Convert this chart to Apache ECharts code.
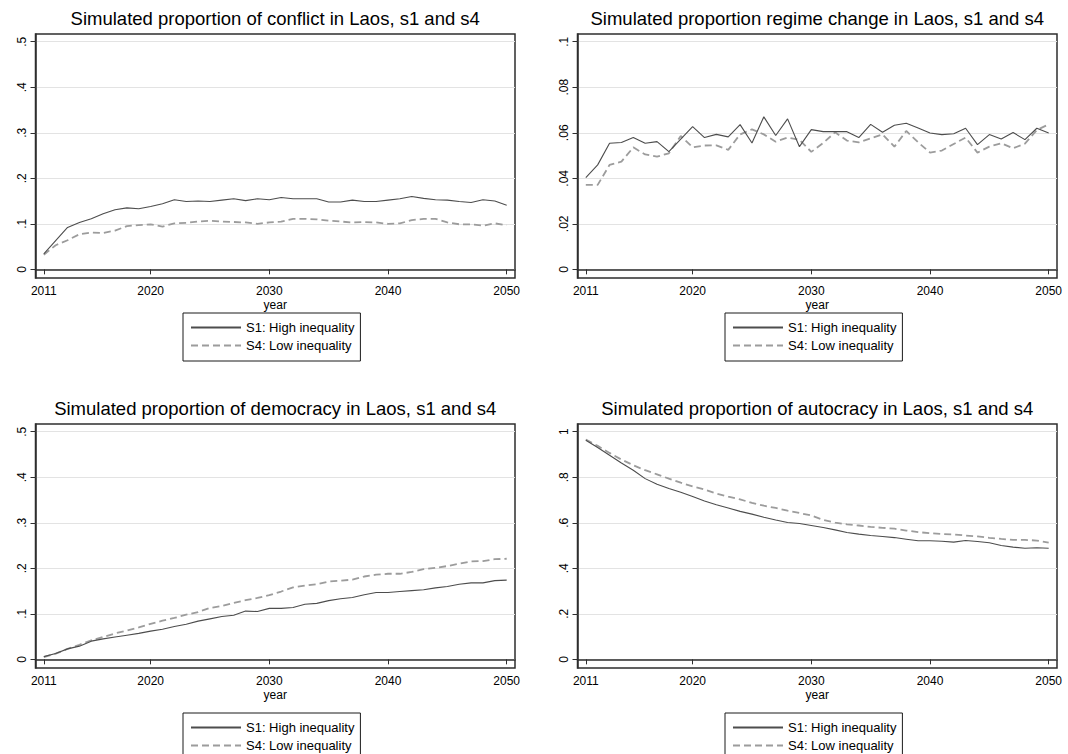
<!DOCTYPE html>
<html>
<head>
<meta charset="utf-8">
<title>Simulated proportions in Laos, s1 and s4</title>
<script src="https://cdn.jsdelivr.net/npm/echarts@6/dist/echarts.min.js"></script>
<style>
  html, body { margin: 0; padding: 0; background: #fff; }
  #chart { width: 1068px; height: 754px; }
</style>
</head>
<body>
<div id="chart"></div>
<script>
// Years simulated
const years = [2011, 2012, 2013, 2014, 2015, 2016, 2017, 2018, 2019, 2020,
               2021, 2022, 2023, 2024, 2025, 2026, 2027, 2028, 2029, 2030,
               2031, 2032, 2033, 2034, 2035, 2036, 2037, 2038, 2039, 2040,
               2041, 2042, 2043, 2044, 2045, 2046, 2047, 2048, 2049, 2050];

const seriesNames = ['S1: High inequality', 'S4: Low inequality'];

// Proportion of conflict
const conflictS1 = [0.034, 0.063, 0.092, 0.103, 0.111, 0.122, 0.131, 0.135, 0.133, 0.138,
                    0.144, 0.153, 0.149, 0.150, 0.149, 0.152, 0.155, 0.151, 0.155, 0.153,
                    0.158, 0.155, 0.155, 0.155, 0.148, 0.148, 0.152, 0.149, 0.149, 0.152,
                    0.155, 0.160, 0.156, 0.153, 0.152, 0.149, 0.147, 0.153, 0.150, 0.141];
const conflictS4 = [0.032, 0.053, 0.064, 0.077, 0.081, 0.080, 0.085, 0.095, 0.097, 0.099,
                    0.094, 0.101, 0.102, 0.105, 0.107, 0.105, 0.104, 0.103, 0.100, 0.103,
                    0.105, 0.111, 0.111, 0.110, 0.107, 0.105, 0.103, 0.104, 0.103, 0.100,
                    0.101, 0.108, 0.111, 0.111, 0.103, 0.099, 0.099, 0.096, 0.101, 0.097];

// Proportion of regime change
const regimeS1 = [0.0403, 0.0459, 0.0554, 0.0557, 0.0579, 0.0554, 0.0561, 0.0517, 0.0572, 0.0627,
                  0.0579, 0.0593, 0.0582, 0.0636, 0.0555, 0.0670, 0.0588, 0.0661, 0.0539, 0.0614,
                  0.0605, 0.0605, 0.0605, 0.0579, 0.0637, 0.0602, 0.0633, 0.0642, 0.0621, 0.0599,
                  0.0592, 0.0596, 0.0620, 0.0548, 0.0592, 0.0573, 0.0601, 0.0570, 0.0620, 0.0599];
const regimeS4 = [0.0371, 0.0371, 0.0459, 0.0473, 0.0536, 0.0505, 0.0495, 0.0510, 0.0586, 0.0536,
                  0.0544, 0.0545, 0.0525, 0.0593, 0.0615, 0.0593, 0.0561, 0.0579, 0.0569, 0.0516,
                  0.0555, 0.0602, 0.0566, 0.0558, 0.0576, 0.0593, 0.0539, 0.0608, 0.0558, 0.0513,
                  0.0522, 0.0551, 0.0579, 0.0513, 0.0539, 0.0554, 0.0532, 0.0552, 0.0612, 0.0637];

// Proportion of democracy
const democracyS1 = [0.006, 0.013, 0.023, 0.029, 0.040, 0.045, 0.049, 0.053, 0.057, 0.062,
                     0.066, 0.072, 0.077, 0.084, 0.089, 0.094, 0.097, 0.106, 0.105, 0.112,
                     0.112, 0.114, 0.121, 0.123, 0.129, 0.133, 0.136, 0.142, 0.147, 0.147,
                     0.149, 0.151, 0.153, 0.157, 0.160, 0.165, 0.168, 0.168, 0.173, 0.174];
const democracyS4 = [0.005, 0.0125, 0.023, 0.032, 0.042, 0.049, 0.057, 0.063, 0.070, 0.078,
                     0.085, 0.091, 0.098, 0.104, 0.113, 0.117, 0.124, 0.130, 0.135, 0.141,
                     0.149, 0.158, 0.162, 0.165, 0.171, 0.173, 0.175, 0.182, 0.186, 0.188,
                     0.188, 0.192, 0.198, 0.201, 0.205, 0.210, 0.215, 0.216, 0.220, 0.221];

// Proportion of autocracy
const autocracyS1 = [0.963, 0.931, 0.897, 0.863, 0.831, 0.794, 0.769, 0.751, 0.734, 0.715,
                     0.696, 0.679, 0.665, 0.650, 0.638, 0.624, 0.612, 0.601, 0.597, 0.588,
                     0.579, 0.569, 0.557, 0.550, 0.544, 0.540, 0.535, 0.528, 0.521, 0.521,
                     0.519, 0.515, 0.522, 0.518, 0.512, 0.500, 0.493, 0.488, 0.490, 0.488];
const autocracyS4 = [0.966, 0.938, 0.907, 0.878, 0.853, 0.831, 0.813, 0.794, 0.776, 0.760,
                     0.746, 0.728, 0.715, 0.703, 0.687, 0.675, 0.665, 0.653, 0.643, 0.632,
                     0.613, 0.601, 0.593, 0.588, 0.582, 0.578, 0.574, 0.566, 0.559, 0.554,
                     0.551, 0.549, 0.544, 0.540, 0.534, 0.529, 0.525, 0.525, 0.522, 0.513];

// Axis ticks and their labels
const xTicks = [2011, 2020, 2030, 2040, 2050];
const xTickLabels = ['2011', '2020', '2030', '2040', '2050'];
const shareTicks = [0, 0.1, 0.2, 0.3, 0.4, 0.5];
const shareTickLabels = ['0', '.1', '.2', '.3', '.4', '.5'];
const regimeTicks = [0, 0.02, 0.04, 0.06, 0.08, 0.1];
const regimeTickLabels = ['0', '.02', '.04', '.06', '.08', '.1'];
const autocracyTicks = [0, 0.2, 0.4, 0.6, 0.8, 1];
const autocracyTickLabels = ['0', '.2', '.4', '.6', '.8', '1'];

const FONT = '"Liberation Sans", Arial, Helvetica, sans-serif';
const INK = '#000';
const FRAME = '#2e2e2e';

function lookupLabel(ticks, labels, v) {
  const k = ticks.findIndex(t => Math.abs(t - v) < 1e-9);
  return k >= 0 ? labels[k] : '';
}

// Panel layout: plot boxes in pixels
const panels = [
  { title: 'Simulated proportion of conflict in Laos, s1 and s4',
    s1: conflictS1, s4: conflictS4, ticks: shareTicks, labels: shareTickLabels,
    left: 35.5, top: 34, legendLeft: 183, legendTop: 313 },
  { title: 'Simulated proportion regime change in Laos, s1 and s4',
    s1: regimeS1, s4: regimeS4, ticks: regimeTicks, labels: regimeTickLabels,
    left: 577.5, top: 34, legendLeft: 725, legendTop: 313 },
  { title: 'Simulated proportion of democracy in Laos, s1 and s4',
    s1: democracyS1, s4: democracyS4, ticks: shareTicks, labels: shareTickLabels,
    left: 35.5, top: 424, legendLeft: 183, legendTop: 713 },
  { title: 'Simulated proportion of autocracy in Laos, s1 and s4',
    s1: autocracyS1, s4: autocracyS4, ticks: autocracyTicks, labels: autocracyTickLabels,
    left: 577.5, top: 424, legendLeft: 725, legendTop: 713 }
];
const PLOT_W = 479.5;
const PLOT_H = 244;

const grids = [], xAxes = [], yAxes = [], titles = [], legends = [], series = [];

panels.forEach((p, i) => {
  grids.push({
    left: p.left, top: p.top, width: PLOT_W, height: PLOT_H,
    show: true, borderColor: FRAME, borderWidth: 1.5, backgroundColor: '#fff'
  });

  xAxes.push({
    gridIndex: i, type: 'value', min: 2010.3, max: 2050.7,
    name: 'year', nameLocation: 'middle', nameGap: 21,
    nameTextStyle: { fontFamily: FONT, fontSize: 12, color: INK },
    axisLine: { show: true, lineStyle: { color: FRAME, width: 1.5 } },
    axisTick: { show: true, inside: false, length: 5, customValues: xTicks,
                lineStyle: { color: FRAME, width: 1 } },
    axisLabel: { customValues: xTicks, margin: 7, fontFamily: FONT, fontSize: 12, color: INK,
                 formatter: (v) => lookupLabel(xTicks, xTickLabels, v) },
    splitLine: { show: false }
  });

  const yMin = p.ticks[0];
  const yMax = p.ticks[p.ticks.length - 1];
  const span = yMax - yMin;
  yAxes.push({
    gridIndex: i, type: 'value',
    min: yMin - span * 0.019 / 0.5, max: yMax + span * 0.017 / 0.5,
    axisLine: { show: true, lineStyle: { color: FRAME, width: 1.5 } },
    axisTick: { show: true, inside: false, length: 5, customValues: p.ticks,
                lineStyle: { color: FRAME, width: 1 } },
    axisLabel: {
      customValues: p.ticks, rotate: 90, margin: 8,
      fontFamily: FONT, fontSize: 12, color: INK,
      formatter: (v) => lookupLabel(p.ticks, p.labels, v)
    },
    splitLine: { show: true, lineStyle: { color: '#e3e3e3', width: 1.2 } }
  });

  titles.push({
    text: p.title, left: p.left + PLOT_W / 2, top: p.top - 25, padding: 0,
    textAlign: 'center',
    textStyle: { fontFamily: FONT, fontSize: 18.5, fontWeight: 'normal', color: INK }
  });

  legends.push({
    data: seriesNames, orient: 'vertical',
    left: p.legendLeft, top: p.legendTop, height: 40,
    itemWidth: 50, itemHeight: 14, itemGap: 5,
    padding: [8, 6, 9, 7],
    borderColor: '#1a1a1a', borderWidth: 1, backgroundColor: '#fff',
    itemStyle: { opacity: 0 },
    textStyle: { fontFamily: FONT, fontSize: 13, color: INK },
    selectedMode: false
  });

  series.push({
    name: seriesNames[0], type: 'line', xAxisIndex: i, yAxisIndex: i,
    data: years.map((y, k) => [y, p.s1[k]]),
    symbol: 'none', silent: true, z: 3,
    lineStyle: { color: '#4d4d4d', width: 1.1, type: 'solid' },
    itemStyle: { color: '#4d4d4d' }
  });
  series.push({
    name: seriesNames[1], type: 'line', xAxisIndex: i, yAxisIndex: i,
    data: years.map((y, k) => [y, p.s4[k]]),
    symbol: 'none', silent: true, z: 2,
    lineStyle: { color: '#9c9c9c', width: 1.8, type: [7, 4] },
    itemStyle: { color: '#9c9c9c' }
  });
});

const chart = echarts.init(document.getElementById('chart'), null, { renderer: 'svg' });
chart.setOption({
  animation: false,
  backgroundColor: '#fff',
  title: titles,
  legend: legends,
  grid: grids,
  xAxis: xAxes,
  yAxis: yAxes,
  series: series
});
</script>
</body>
</html>
